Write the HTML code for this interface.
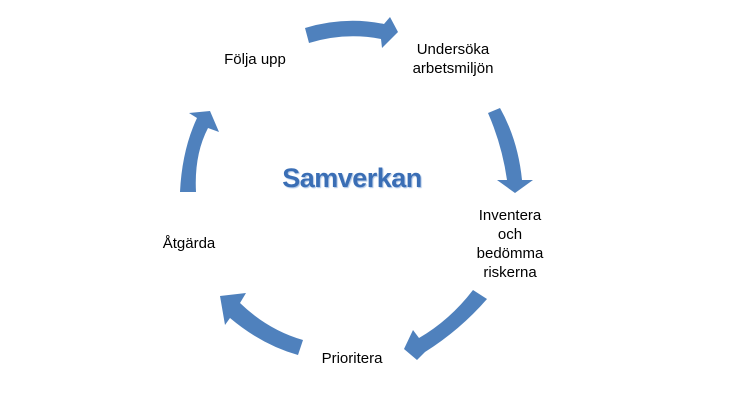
<!DOCTYPE html>
<html><head><meta charset="utf-8"><style>
body{margin:0;width:730px;height:405px;background:#fff;overflow:hidden;position:relative;font-family:"Liberation Sans",sans-serif;}
.t{position:absolute;font-size:15px;color:#000;text-align:center;line-height:19px;white-space:nowrap;transform:translateX(-50%);}
#s{position:absolute;left:352px;top:163px;transform:translateX(-50%);font-size:27px;font-weight:bold;color:#3a6eb5;text-shadow:1px 1px 1px #a9c2e4;letter-spacing:-0.5px;}
</style></head><body>
<svg width="730" height="405" style="position:absolute;left:0;top:0">
<g fill="#4f81bd">
<path d="M305,28 Q345,16 384,24 L390,17 L398,32 L382,48 L381,39 Q345,32 309,43 Z"/>
<path d="M488,113 L500,108 Q518,140 522,180 L533,180 L515,193 L497,180 L507,180 Q502,145 488,113 Z"/>
<path d="M473,290 L487,299 Q460,330 425,352 L417,360 L404,349 L413,330 L419,338 Q450,320 473,290 Z"/>
<path d="M303,340 L298,355 Q262,345 230,318 L225,325 L220,296 L246,293 L240,303 Q268,330 303,340 Z"/>
<path d="M180,192 L196,192 Q194,155 208,128 L219,132 L210,111 L189,113 L197,118 Q182,150 180,192 Z"/>
</g>
</svg>
<div class="t" style="left:255px;top:50px">Följa upp</div>
<div class="t" style="left:453px;top:40px">Undersöka<br>arbetsmiljön</div>
<div class="t" style="left:510px;top:206px">Inventera<br>och<br>bedömma<br>riskerna</div>
<div class="t" style="left:189px;top:234px">Åtgärda</div>
<div class="t" style="left:352px;top:349px">Prioritera</div>
<div id="s">Samverkan</div>
</body></html>
